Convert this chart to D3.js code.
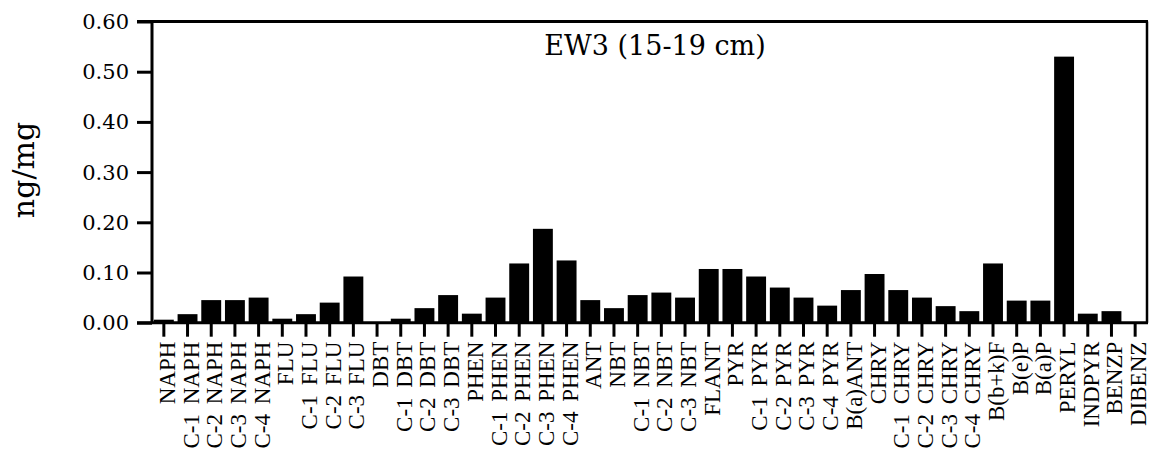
<!DOCTYPE html>
<html lang="en">
<head>
<meta charset="UTF-8">
<title>EW3 (15-19 cm)</title>
<script src="https://cdn.jsdelivr.net/npm/d3@7"></script>
<style>
    body { margin: 0; background: #fff; }
    .axis path { display: none; }
    .axis line { stroke: #000; stroke-width: 3; }
    .ytick text { font-family: "DejaVu Serif", serif; font-size: 21px; fill: #000; }
    .xtick text { font-family: "Liberation Serif", serif; font-size: 23px; word-spacing: 4px; fill: #000; }
</style>
</head>
<body>
<div id="chart"></div>
<script>

var categories = ["NAPH", "C-1 NAPH", "C-2 NAPH", "C-3 NAPH", "C-4 NAPH",
    "FLU", "C-1 FLU", "C-2 FLU", "C-3 FLU",
    "DBT", "C-1 DBT", "C-2 DBT", "C-3 DBT",
    "PHEN", "C-1 PHEN", "C-2 PHEN", "C-3 PHEN", "C-4 PHEN",
    "ANT", "NBT", "C-1 NBT", "C-2 NBT", "C-3 NBT",
    "FLANT", "PYR", "C-1 PYR", "C-2 PYR", "C-3 PYR", "C-4 PYR",
    "B(a)ANT", "CHRY", "C-1 CHRY", "C-2 CHRY", "C-3 CHRY", "C-4 CHRY",
    "B(b+k)F", "B(e)P", "B(a)P", "PERYL", "INDPYR", "BENZP", "DIBENZ"];

var values = [0.006, 0.017, 0.045, 0.045, 0.050,
    0.008, 0.017, 0.040, 0.092,
    0.000, 0.008, 0.029, 0.055,
    0.018, 0.050, 0.118, 0.187, 0.124,
    0.045, 0.029, 0.055, 0.060, 0.050,
    0.107, 0.107, 0.092, 0.070, 0.050, 0.034,
    0.065, 0.097, 0.065, 0.050, 0.033, 0.023,
    0.118, 0.044, 0.044, 0.530, 0.018, 0.023, 0.000];

var yTicks = [0, 0.1, 0.2, 0.3, 0.4, 0.5, 0.6];

var w = 1156;
var h = 470;
var plotLeft = 152, plotRight = 1147, plotTop = 21.5, plotBottom = 322.7;

var svg = d3.select("#chart")
            .append("svg")
            .attr("width", w)
            .attr("height", h);

var xScale = d3.scaleBand()
        .domain(categories)
        .range([plotLeft, plotRight]);

var yScale = d3.scaleLinear()
        .domain([0, 0.6])
        .range([plotBottom, plotTop]);

var barW = xScale.bandwidth() * 0.84;

// bars
svg.append("g").selectAll("rect")
        .data(values)
        .enter()
        .append("rect")
            .attr("x", function(d, i){ return xScale(categories[i]) + xScale.bandwidth()/2 - barW/2; })
            .attr("y", function(d){ return yScale(d); })
            .attr("width", barW)
            .attr("height", function(d){ return plotBottom - yScale(d); })
            .attr("fill", "#000");

// y axis
var yAxis = svg.append("g")
        .attr("class", "axis ytick")
        .attr("transform", "translate(" + plotLeft + ",0)")
        .call(d3.axisLeft(yScale).tickValues(yTicks).tickFormat(d3.format(".2f")).tickSize(15).tickPadding(8));
yAxis.selectAll("text").attr("dy", "0.33em");

// x axis
var xAxis = svg.append("g")
        .attr("class", "axis xtick")
        .attr("transform", "translate(0," + plotBottom + ")")
        .call(d3.axisBottom(xScale).tickSize(14));
xAxis.selectAll("text")
        .attr("transform", "rotate(-90)")
        .attr("text-anchor", "end")
        .attr("x", -19)
        .attr("y", 11)
        .attr("dy", null);

// frame
var frame = svg.append("g").attr("stroke", "#000").attr("fill", "none");
frame.append("line").attr("x1", plotLeft).attr("x2", plotLeft).attr("y1", plotTop).attr("y2", plotBottom).attr("stroke-width", 3);
frame.append("line").attr("x1", plotLeft - 15).attr("x2", plotRight + 1).attr("y1", plotBottom).attr("y2", plotBottom).attr("stroke-width", 3);
frame.append("line").attr("x1", plotLeft - 15).attr("x2", plotRight + 1).attr("y1", plotTop).attr("y2", plotTop).attr("stroke-width", 3);
frame.append("line").attr("x1", plotRight).attr("x2", plotRight).attr("y1", plotTop).attr("y2", plotBottom).attr("stroke-width", 2.5);

// title and y label
svg.append("text")
        .text("EW3 (15-19 cm)")
        .attr("x", 655)
        .attr("y", 55)
        .attr("text-anchor", "middle")
        .style("font-family", "DejaVu Serif, serif")
        .style("font-size", "27px");

svg.append("text")
        .text("ng/mg")
        .attr("transform", "translate(34,170) rotate(-90)")
        .attr("text-anchor", "middle")
        .style("font-family", "DejaVu Serif, serif")
        .style("font-size", "30px");

</script>
</body>
</html>
